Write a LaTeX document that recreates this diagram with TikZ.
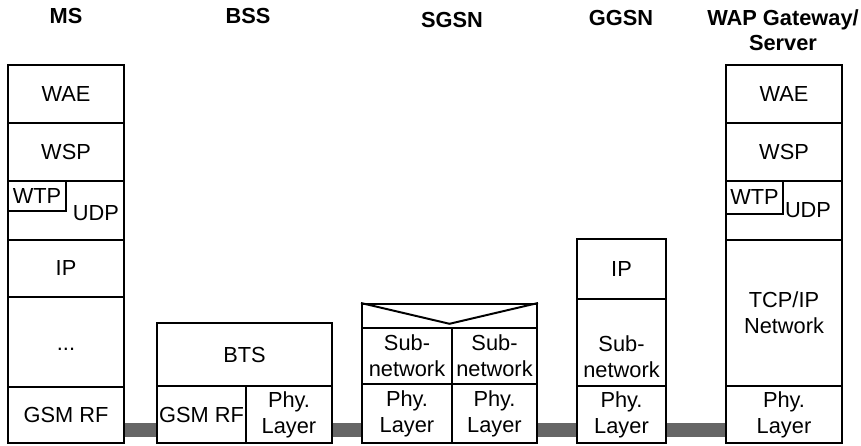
\documentclass[tikz,border=0pt]{standalone}
\usepackage{fontspec}
\setmainfont{Liberation Sans}
\usetikzlibrary{positioning, fit, calc}

\begin{document}
\begin{tikzpicture}[
    % pixel grid of the reference
    x=0.025cm, y=-0.025cm,
    font=\fontsize{15.5}{18.5}\selectfont,
    % Styles
    cell/.style={draw=black, line width=1.4pt, fill=white, inner sep=0pt},
    tag/.style={align=center, inner sep=1pt},
    head/.style={font=\fontsize{15.5}{17.5}\selectfont\bfseries, align=center},
    link/.style={draw=black!60, line width=10.5pt}
]
    \useasboundingbox (0,0) rectangle (861,446);

    % --- Headings ---
    \node[head] (hms)   at (66,16)  {MS};
    \node[head] (hbss)  at (248,16) {BSS};
    \node[head] (hsgsn) at (452,20) {SGSN};
    \node[head] (hggsn) at (621,18) {GGSN};
    \node[head] (hwap)  at (783,30) {WAP Gateway/\\Server};

    % --- MS stack ---
    \node[cell, fit={(8,65)(124,123)}, label={[tag]center:WAE}]  (mswae) {};
    \node[cell, fit={(8,123)(124,181)}, label={[tag]center:WSP}] (mswsp) {};
    \node[cell, fit={(8,181)(124,240)}] (msudp) {};
    \node[cell, fit={(8,181)(66,211)}, label={[tag]center:WTP}]  (mswtp) {};
    \node (msudptext) at (96,213) {UDP};
    \node[cell, fit={(8,240)(124,297)}, label={[tag]center:IP}]  (msip) {};
    \node[cell, fit={(8,297)(124,387)}, label={[tag, yshift=-5pt]center:...}] (msdots) {};
    \node[cell, fit={(8,387)(124,443)}, label={[tag]center:GSM RF}] (msrf) {};

    % --- BSS stack ---
    \node[cell, fit={(157,323)(332,386)}, label={[tag]center:BTS}]    (bts) {};
    \node[cell, fit={(157,386)(246,443)}, label={[tag]center:GSM RF}] (bssrf) {};
    \node[cell, fit={(246,386)(332,443)}, label={[tag]center:Phy.\\Layer}] (bssphy) {};

    % --- SGSN stack ---
    \node[cell, fit={(362,304)(537,328)}] (sgtop) {};
    \draw[line width=1.4pt] (sgtop.north west) -- ($(sgtop.south)!0.2!(sgtop.north)$) -- (sgtop.north east);
    \node[cell, fit={(362,328)(452,384)}, label={[tag]center:Sub-\\network}] (sgsubl) {};
    \node[cell, fit={(452,328)(537,384)}, label={[tag]center:Sub-\\network}] (sgsubr) {};
    \node[cell, fit={(362,384)(452,443)}, label={[tag]center:Phy.\\Layer}]   (sgphyl) {};
    \node[cell, fit={(452,384)(537,443)}, label={[tag]center:Phy.\\Layer}]   (sgphyr) {};

    % --- GGSN stack ---
    \node[cell, fit={(577,239)(666,299)}, label={[tag]center:IP}] (ggip) {};
    \node[cell, fit={(577,299)(666,386)}, label={[tag, yshift=-10pt]center:Sub-\\network}] (ggsub) {};
    \node[cell, fit={(577,386)(666,443)}, label={[tag]center:Phy.\\Layer}] (ggphy) {};

    % --- WAP Gateway / Server stack ---
    \node[cell, fit={(726,65)(842,123)}, label={[tag]center:WAE}]  (wapwae) {};
    \node[cell, fit={(726,123)(842,181)}, label={[tag]center:WSP}] (wapwsp) {};
    \node[cell, fit={(726,181)(842,240)}] (wapudp) {};
    \node[cell, fit={(726,181)(783,214)}, label={[tag]center:WTP}] (wapwtp) {};
    \node (wapudptext) at (808,210) {UDP};
    \node[cell, fit={(726,240)(842,386)}, label={[tag]center:TCP/IP\\Network}] (waptcp) {};
    \node[cell, fit={(726,386)(842,443)}, label={[tag]center:Phy.\\Layer}]     (wapphy) {};

    % --- Physical links ---
    \coordinate (linklevel) at (0,430);
    \draw[link] (msrf.east |- linklevel)   -- (bssrf.west |- linklevel);
    \draw[link] (bssphy.east |- linklevel) -- (sgphyl.west |- linklevel);
    \draw[link] (sgphyr.east |- linklevel) -- (ggphy.west |- linklevel);
    \draw[link] (ggphy.east |- linklevel)  -- (wapphy.west |- linklevel);

\end{tikzpicture}
\end{document}
